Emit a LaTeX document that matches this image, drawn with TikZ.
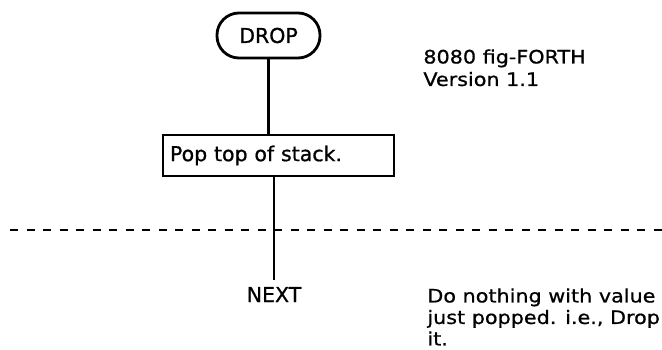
\documentclass[tikz,border=0pt]{standalone}
\usepackage{fontspec}
\setmainfont[FakeBold=0.8]{DejaVu Sans}
\newfontfamily\notefont[FakeStretch=1.12, FakeBold=0.8]{DejaVu Sans}

\begin{document}
\begin{tikzpicture}[x=1pt, y=-1pt, line width=2.8pt,
  term/.style={draw, rounded corners=22pt, minimum width=103pt, minimum height=45pt, font=\fontsize{20.5}{23}\selectfont},
  procbox/.style={draw, inner sep=7pt, text width=217pt, minimum height=41pt, align=left, font=\fontsize{20.5}{23}\selectfont},
  lbl/.style={inner sep=6pt, font=\fontsize{20.5}{23}\selectfont},
  note/.style={inner sep=0pt, anchor=north west, align=left, font=\notefont\fontsize{18.5}{21.5}\selectfont}]
\useasboundingbox (0,0) rectangle (662,350);
\node[term] (drop) at (268.5,35.5) {DROP};
\node[procbox] (pop) at (278.5,155.5) {Pop top of stack.};
\node[lbl, anchor=base] (next) at (274,302) {NEXT};
\coordinate (dl) at (10,230);
\coordinate (dr) at (662,230);
\node[note] (ver) at (422,48) {8080 fig-FORTH\\[1pt]Version 1.1};
\node[note] (what) at (426,287) {Do nothing with value\\just popped. i.e., Drop\\it.};
\draw (drop.south) -- (drop.south |- pop.north);
\draw (pop.south -| next.north) -- (next.north);
\draw[line width=2.4pt, dash pattern=on 8pt off 8.5pt] (dl) -- (dr);
\end{tikzpicture}
\end{document}
